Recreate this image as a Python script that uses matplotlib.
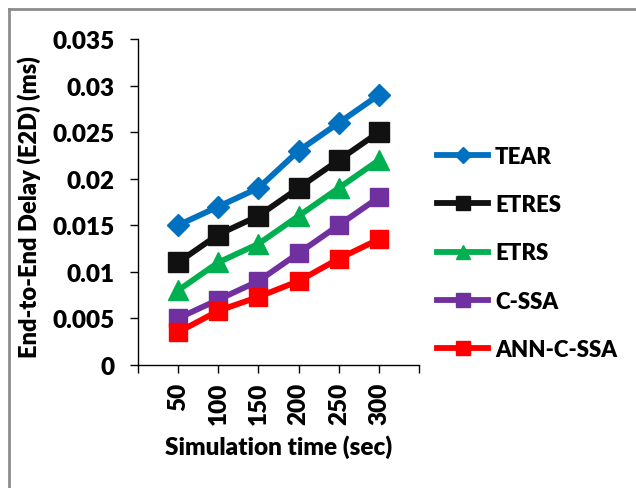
import matplotlib
matplotlib.use('Agg')
import matplotlib.pyplot as plt
from matplotlib.lines import Line2D

plt.rcParams['font.family'] = ['Lato', 'DejaVu Sans']
plt.rcParams['font.weight'] = 'heavy'

sim_time = [50, 100, 150, 200, 250, 300]
tear = [0.015, 0.017, 0.019, 0.023, 0.026, 0.029]
etres = [0.011, 0.014, 0.016, 0.019, 0.022, 0.025]
etrs = [0.008, 0.011, 0.013, 0.016, 0.019, 0.022]
c_ssa = [0.005, 0.007, 0.009, 0.012, 0.015, 0.018]
ann_c_ssa = [0.0035, 0.0058, 0.0073, 0.009, 0.0114, 0.0135]

series = [
    ('TEAR', tear, '#0070C0', 'D', 11.5, 8),
    ('ETRES', etres, '#111111', 's', 14, 10),
    ('ETRS', etrs, '#00B050', '^', 15, 10),
    ('C-SSA', c_ssa, '#7030A0', 's', 13, 10),
    ('ANN-C-SSA', ann_c_ssa, '#FF0000', 's', 13.5, 10),
]

fig = plt.figure(figsize=(6.36, 4.89), dpi=100)
ax = fig.add_axes([0.217, 0.252, 0.442, 0.666])

handles = []
for name, vals, col, mk, ms, lms in series:
    ax.plot(sim_time, vals, color=col, lw=4.2, marker=mk, ms=ms, label=name)
    handles.append(Line2D([], [], color=col, lw=4.2, marker=mk, ms=lms))

ax.set_xlim(0, 350)
ax.set_ylim(0, 0.035)
ax.set_xticks([0, 50, 100, 150, 200, 250, 300, 350])
ax.set_xticklabels(['', '50', '100', '150', '200', '250', '300', ''], rotation=90, fontsize=17.5)
ax.set_yticks([0, 0.005, 0.01, 0.015, 0.02, 0.025, 0.03, 0.035])
ax.set_yticklabels(['0', '0.005', '0.01', '0.015', '0.02', '0.025', '0.03', '0.035'], fontsize=17.5)
ax.tick_params(direction='out', length=6, width=1, pad=6)
ax.tick_params(axis='y', pad=11)
for s in ['top', 'right']:
    ax.spines[s].set_visible(False)
for s in ['left', 'bottom']:
    ax.spines[s].set_linewidth(1)

ax.set_xlabel('Simulation time (sec)', fontsize=17.5, fontweight='heavy')
ax.set_ylabel('End-to-End Delay (E2D) (ms)', fontsize=17, fontweight='heavy')
ax.xaxis.set_label_coords(0.5, -0.215)
ax.yaxis.set_label_coords(-0.345, 0.486)

fig.legend(handles, [s[0] for s in series], loc='center left', bbox_to_anchor=(0.656, 0.481),
           frameon=False, fontsize=16, handlelength=2.3, labelspacing=1.23, handletextpad=0.3)

# outer chart frame (only top and left edges visible in the picture)
fig.add_artist(Line2D([0.0145, 1.0], [0.979, 0.979], color='#8c8c8c', lw=2, transform=fig.transFigure))
fig.add_artist(Line2D([0.0145, 0.0145], [0.0, 0.979], color='#8c8c8c', lw=2, transform=fig.transFigure))

fig.savefig('out.png', dpi=100)
